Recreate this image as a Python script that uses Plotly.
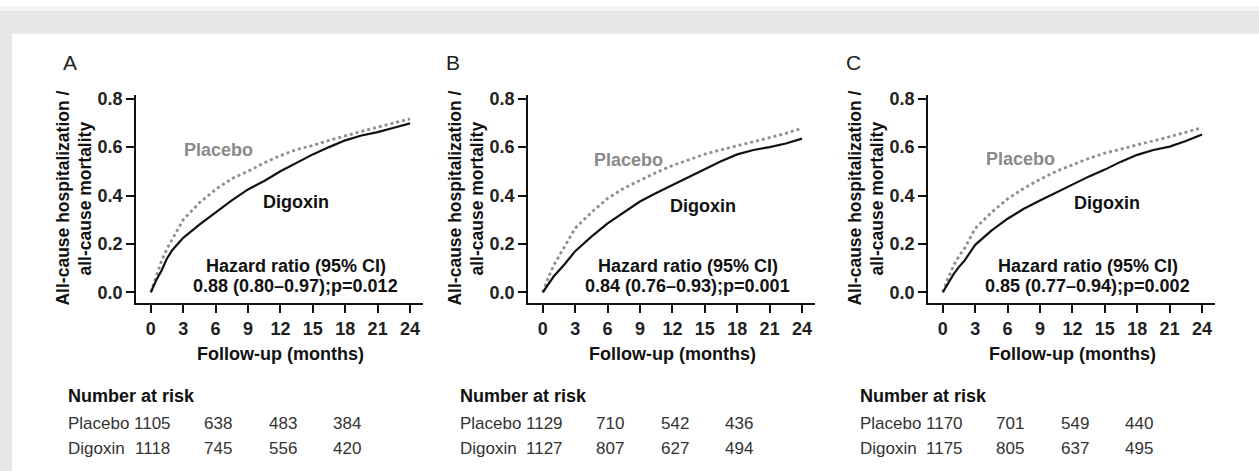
import plotly.graph_objects as go

# Follow-up time points (months) at which the cumulative event curves are given
months = [0, 0.5, 1, 1.5, 2, 3, 4.5, 6, 7.5, 9, 10.5, 12, 13.5, 15, 16.5, 18, 19.5, 21, 22.5, 24]

# Panel A
a_digoxin = [0, 0.05, 0.09, 0.14, 0.175, 0.225, 0.28, 0.33, 0.38, 0.425, 0.46, 0.50, 0.535, 0.57, 0.60, 0.628, 0.648, 0.662, 0.68, 0.698]
a_placebo = [0, 0.07, 0.13, 0.18, 0.22, 0.30, 0.37, 0.425, 0.47, 0.50, 0.535, 0.565, 0.59, 0.607, 0.628, 0.648, 0.665, 0.682, 0.698, 0.717]
# Panel B
b_digoxin = [0, 0.035, 0.065, 0.09, 0.115, 0.17, 0.23, 0.285, 0.33, 0.375, 0.41, 0.443, 0.478, 0.51, 0.542, 0.57, 0.588, 0.60, 0.615, 0.635]
b_placebo = [0, 0.06, 0.11, 0.15, 0.185, 0.265, 0.33, 0.388, 0.43, 0.463, 0.495, 0.524, 0.548, 0.571, 0.589, 0.605, 0.622, 0.639, 0.657, 0.678]
# Panel C
c_digoxin = [0, 0.04, 0.075, 0.105, 0.13, 0.196, 0.255, 0.304, 0.345, 0.379, 0.413, 0.447, 0.478, 0.507, 0.54, 0.568, 0.588, 0.602, 0.625, 0.652]
c_placebo = [0, 0.06, 0.11, 0.15, 0.18, 0.264, 0.33, 0.386, 0.43, 0.467, 0.50, 0.528, 0.553, 0.575, 0.593, 0.609, 0.626, 0.643, 0.66, 0.68]

panel_letters = ["A", "B", "C"]
hazard_texts = [
    "0.88 (0.80\u20130.97);p=0.012",
    "0.84 (0.76\u20130.93);p=0.001",
    "0.85 (0.77\u20130.94);p=0.002",
]

# Number at risk table
risk_months = [0, 6, 12, 18]
risk_placebo = [[1105, 638, 483, 384], [1129, 710, 542, 436], [1170, 701, 549, 440]]
risk_digoxin = [[1118, 745, 556, 420], [1127, 807, 627, 494], [1175, 805, 637, 495]]

x_ticks = [0, 3, 6, 9, 12, 15, 18, 21, 24]
y_ticks = [0.0, 0.2, 0.4, 0.6, 0.8]

W, H = 1259, 471
FONT = "Liberation Sans, Arial, Helvetica, sans-serif"

curves = [(a_digoxin, a_placebo), (b_digoxin, b_placebo), (c_digoxin, c_placebo)]
# left/right pixel edges of each plotting area
x_px = [(136, 423), (528, 815), (928, 1215)]
y_top, y_bot = 90, 301
table_left_px = [66, 458, 858]
letter_px = [70, 453, 853]


def px_x(p):
    return p / W


def px_y(p):
    return 1 - p / H


def note(**kw):
    base = dict(showarrow=False, xanchor="center", yanchor="middle")
    base.update(kw)
    return base


fig = go.Figure()
annotations = []
layout_axes = {}

bold = dict(family=FONT, size=18, color="#111", weight="bold")
tick_font = dict(family=FONT, size=18, color="#222", weight="bold")
title_font = dict(family=FONT, size=17.5, color="#111", weight="bold")
row_font = dict(family=FONT, size=17, color="#333")

for i, (dig, pla) in enumerate(curves):
    n = "" if i == 0 else str(i + 1)
    xa, ya = "x" + n, "y" + n
    fig.add_trace(go.Scatter(
        x=months, y=pla, mode="lines", xaxis=xa, yaxis=ya,
        line=dict(color="#8f8f8f", width=2.8, dash="dot"), showlegend=False,
    ))
    fig.add_trace(go.Scatter(
        x=months, y=dig, mode="lines", xaxis=xa, yaxis=ya,
        line=dict(color="#111111", width=2.2), showlegend=False,
    ))
    x0, x1 = x_px[i]
    layout_axes["xaxis" + n] = dict(
        domain=[px_x(x0), px_x(x1)], range=[-1.37, 25.2], anchor=ya,
        tickmode="array", tickvals=x_ticks, ticks="outside", ticklen=8,
        tickwidth=1.5, tickcolor="#111", showline=True, linecolor="#111",
        linewidth=1.5, showgrid=False, zeroline=False, tickfont=tick_font,
    )
    layout_axes["yaxis" + n] = dict(
        domain=[px_y(y_bot), px_y(y_top)], range=[-0.045, 0.816], anchor=xa,
        tickmode="array", tickvals=y_ticks, ticktext=[f"{v:.1f}" for v in y_ticks],
        ticks="outside", ticklen=8, tickwidth=1.5, tickcolor="#111",
        showline=True, linecolor="#111", linewidth=1.5, showgrid=False,
        zeroline=False, tickfont=tick_font,
    )

    # curve labels and hazard ratio
    label_pos = [((6.3, 0.59), (13.4, 0.375)), ((7.9, 0.545), (14.8, 0.355)), ((7.2, 0.55), (15.2, 0.367))][i]
    annotations.append(note(x=label_pos[0][0], y=label_pos[0][1], xref=xa, yref=ya,
                            text="Placebo",
                            font=dict(family=FONT, size=18, color="#8a8a8a", weight="bold")))
    annotations.append(note(x=label_pos[1][0], y=label_pos[1][1], xref=xa, yref=ya,
                            text="Digoxin", font=bold))
    annotations.append(note(x=13.4, y=0.11, xref=xa, yref=ya,
                            text="Hazard ratio (95% CI)", font=bold))
    annotations.append(note(x=13.4, y=0.028, xref=xa, yref=ya,
                            text=hazard_texts[i], font=bold))

    # x-axis title
    annotations.append(note(x=12, y=px_y(352), xref=xa, yref="paper",
                            text="Follow-up (months)", font=bold))
    # y-axis title (two lines)
    for dx, line in ((-73, "All-cause hospitalization /"), (-51, "all-cause mortality")):
        annotations.append(note(x=px_x(x0 + dx), y=px_y(195), xref="paper", yref="paper",
                                text=line, textangle=-90, font=title_font))
    # panel letter
    annotations.append(note(x=px_x(letter_px[i]), y=px_y(57), xref="paper", yref="paper",
                            text=panel_letters[i],
                            font=dict(family=FONT, size=21, color="#222")))

    # number at risk table
    annotations.append(note(x=px_x(table_left_px[i]), y=px_y(395), xref="paper", yref="paper",
                            xanchor="left", text="Number at risk", font=bold))
    for row_y, name, values in ((423, "Placebo", risk_placebo[i]), (448, "Digoxin", risk_digoxin[i])):
        annotations.append(note(x=px_x(table_left_px[i]), y=px_y(row_y), xref="paper", yref="paper",
                                xanchor="left", text=name, font=row_font))
        for t, v in zip(risk_months, values):
            annotations.append(note(x=t + 0.2, y=px_y(row_y), xref=xa, yref="paper",
                                    text=str(v), font=row_font))

shapes = [
    dict(type="rect", xref="paper", yref="paper", x0=0, x1=1, y0=px_y(5), y1=1,
         fillcolor="#f3f3f3", line=dict(width=0), layer="below"),
    dict(type="rect", xref="paper", yref="paper", x0=0, x1=1, y0=px_y(28), y1=px_y(5),
         fillcolor="#e6e6e6", line=dict(width=0), layer="below"),
    dict(type="rect", xref="paper", yref="paper", x0=0, x1=px_x(12), y0=0, y1=px_y(28),
         fillcolor="#e6e6e6", line=dict(width=0), layer="below"),
]

fig.update_layout(
    width=W, height=H, margin=dict(l=0, r=0, t=0, b=0),
    paper_bgcolor="white", plot_bgcolor="white",
    annotations=annotations, shapes=shapes, showlegend=False,
    **layout_axes,
)

fig.write_html("out.html")
